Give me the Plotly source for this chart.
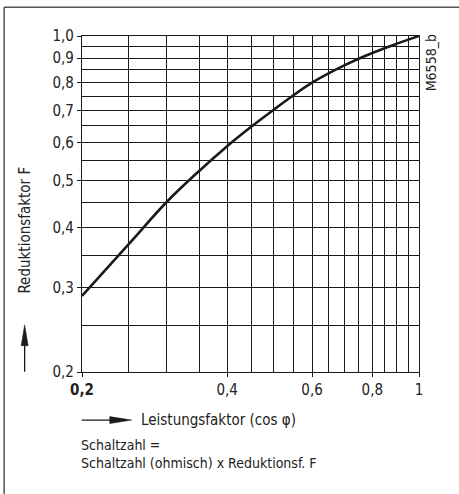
import plotly.graph_objects as go

# Data
cos_phi = [0.2, 0.25, 0.3, 0.35, 0.4, 0.45, 0.5, 0.55, 0.6, 0.7, 0.8, 0.9, 1.0]
factor_f = [0.288, 0.369, 0.452, 0.524, 0.590, 0.649, 0.703, 0.754, 0.800, 0.869, 0.922, 0.964, 1.0]

x_tickvals = [0.2, 0.4, 0.6, 0.8, 1.0]
x_ticktext = ["<b>0,2</b>", "0,4", "0,6", "0,8", "1"]
y_tickvals = [0.2, 0.3, 0.4, 0.5, 0.6, 0.7, 0.8, 0.9, 1.0]
y_ticktext = ["0,2", "0,3", "0,4", "0,5", "0,6", "0,7", "0,8", "0,9", "1,0"]
grid_vals = [round(0.2 + 0.05 * i, 2) for i in range(17)]

FONT = "Liberation Sans Narrow, DejaVu Sans Condensed, Arial Narrow, sans-serif"
INK = "#1a1a1a"

fig = go.Figure()
fig.add_trace(go.Scatter(x=cos_phi, y=factor_f, mode="lines", line=dict(color=INK, width=2.6, shape="spline"),
                         showlegend=False, hoverinfo="skip"))

W, H = 459, 494
L, R, T, B = 82.3, 419.0, 35.7, 372.3

def px(x):
    return (x - L) / (R - L)

def py(y):
    return (B - y) / (B - T)

axis_common = dict(type="log", showline=True, linecolor=INK, linewidth=1.3, mirror=True,
                   showgrid=True, gridcolor=INK, gridwidth=1.2, zeroline=False,
                   ticks="outside", ticklen=4, tickcolor=INK, tickwidth=1.2,
                   tickfont=dict(family=FONT, size=15, color="#222"))

fig.update_xaxes(range=[-0.69897, 0], tickmode="array", tickvals=x_tickvals, ticktext=x_ticktext,
                 minor=dict(tickmode="array", tickvals=grid_vals, showgrid=True, gridcolor=INK, gridwidth=1.2, ticks=""),
                 **axis_common)
fig.update_yaxes(range=[-0.69897, 0], tickmode="array", tickvals=y_tickvals, ticktext=y_ticktext,
                 minor=dict(tickmode="array", tickvals=grid_vals, showgrid=True, gridcolor=INK, gridwidth=1.2, ticks=""),
                 **axis_common)

shapes = [
    # outer frame (left and top)
    dict(type="line", xref="paper", yref="paper", x0=px(4.5), x1=px(4.5), y0=py(7), y1=py(W * 2), line=dict(color="#555", width=1.5)),
    dict(type="line", xref="paper", yref="paper", x0=px(4.5), x1=px(W + 5), y0=py(7), y1=py(7), line=dict(color="#555", width=1.5)),
    # y arrow
    dict(type="line", xref="paper", yref="paper", x0=px(25), x1=px(25), y0=py(372), y1=py(340), line=dict(color=INK, width=1.3)),
    dict(type="path", xref="paper", yref="paper",
         path=f"M {px(25)} {py(325)} L {px(21.5)} {py(346)} L {px(28.5)} {py(346)} Z",
         fillcolor=INK, line=dict(color=INK, width=0.5)),
    # x arrow
    dict(type="line", xref="paper", yref="paper", x0=px(82), x1=px(115), y0=py(420.5), y1=py(420.5), line=dict(color=INK, width=1.3)),
    dict(type="path", xref="paper", yref="paper",
         path=f"M {px(132)} {py(420.5)} L {px(110)} {py(417)} L {px(110)} {py(424)} Z",
         fillcolor=INK, line=dict(color=INK, width=0.5)),
]

annotations = [
    dict(text="Reduktionsfaktor F", xref="paper", yref="paper", x=px(25), y=py(230), showarrow=False,
         textangle=-90, font=dict(family=FONT, size=15, color="#222"), xanchor="center", yanchor="middle"),
    dict(text="M6558_b", xref="paper", yref="paper", x=px(431), y=py(63), showarrow=False,
         textangle=-90, font=dict(family=FONT, size=14, color="#222"), xanchor="center", yanchor="middle"),
    dict(text="Leistungsfaktor (cos φ)", xref="paper", yref="paper", x=px(139), y=py(420), showarrow=False,
         font=dict(family=FONT, size=15, color="#222"), xanchor="left", yanchor="middle"),
    dict(text="Schaltzahl =<br>Schaltzahl (ohmisch) x Reduktionsf. F", xref="paper", yref="paper",
         x=px(79), y=py(454), showarrow=False, align="left",
         font=dict(family=FONT, size=14, color="#222"), xanchor="left", yanchor="middle"),
]

fig.update_layout(width=W, height=H, margin=dict(l=L, r=W - R, t=T, b=H - B, pad=0),
                  plot_bgcolor="white", paper_bgcolor="white", shapes=shapes, annotations=annotations,
                  font=dict(family=FONT))

fig.write_html("out.html", config={"displayModeBar": False},
               post_script="document.body.style.margin='0';document.body.style.overflow='hidden';")
